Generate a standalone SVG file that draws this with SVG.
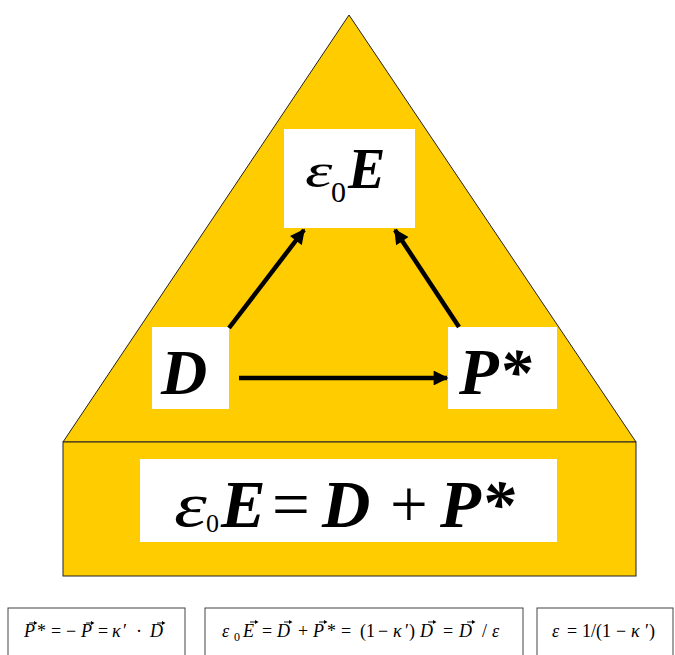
<svg xmlns="http://www.w3.org/2000/svg" width="675" height="655" viewBox="0 0 675 655">
<style>
.gold{fill:#FFCC00;stroke:#222;stroke-width:1}
.wb{fill:#fff;stroke:none}
.sb{fill:#fff;stroke:#444;stroke-width:1}
.m{font-family:"Liberation Serif","Times New Roman",serif;fill:#000}
.bi{font-style:italic;font-weight:bold}
.it{font-style:italic}
.conn{stroke:#000;stroke-width:4.5;fill:none}
.s{font-family:"Liberation Serif","Times New Roman",serif;font-size:18px;fill:#000}
</style>
<defs>
<marker id="ah" viewBox="0 0 10 10" refX="9" refY="5" markerWidth="3.6" markerHeight="3.3" orient="auto" markerUnits="strokeWidth">
<path d="M0,0 L10,5 L0,10 Z" fill="#000"/>
</marker>
<g id="vec">
<path d="M-4,0 H2" stroke="#000" stroke-width="0.9" fill="none"/>
<path d="M1,-1.9 L4.5,0 L1,1.9 Z" fill="#000"/>
</g>
</defs>
<g id="background">
<polygon class="gold" points="349,15 636,442 63,442"/>
<rect class="gold" x="63" y="442" width="573" height="134"/>
</g>
<g id="node-e0E">
<rect class="wb" x="284" y="129" width="131" height="99"/>
<text class="m it" transform="translate(305,187) scale(1.45,1)" font-size="48">ε</text>
<text class="m" x="331" y="202" font-size="30">0</text>
<text class="m bi" x="348" y="188" font-size="56">E</text>
</g>
<g id="node-D">
<rect class="wb" x="152" y="327" width="77" height="82"/>
<text class="m bi" x="161" y="394" font-size="64">D</text>
</g>
<g id="node-Pstar">
<rect class="wb" x="448" y="327" width="109" height="82"/>
<text class="m bi" x="459" y="394" font-size="65">P*</text>
</g>
<g id="connectors">
<line class="conn" x1="239" y1="378" x2="447" y2="378" marker-end="url(#ah)"/>
<line class="conn" x1="229" y1="328" x2="304" y2="230" marker-end="url(#ah)"/>
<line class="conn" x1="459" y1="327" x2="395" y2="230" marker-end="url(#ah)"/>
</g>
<g id="equation">
<rect class="wb" x="140" y="459" width="417" height="83"/>
<text class="m it" transform="translate(174,526) scale(1.3,1)" font-size="64">ε</text>
<text class="m" x="206" y="532" font-size="26">0</text>
<text class="m" y="527" font-size="67"><tspan class="bi" x="221">E</tspan><tspan x="272">=</tspan><tspan class="bi" x="322">D</tspan><tspan x="390">+</tspan><tspan class="bi" x="440">P*</tspan></text>
</g>
<g id="formula-1">
<rect class="sb" x="8" y="608" width="177" height="60"/>
<text class="s" y="637"><tspan class="it" x="24">P</tspan><tspan x="37">*</tspan><tspan x="51">=</tspan><tspan x="66">−</tspan><tspan class="it" x="81">P</tspan><tspan x="98">=</tspan><tspan class="it" x="112">κ</tspan><tspan x="123">′</tspan><tspan x="136">·</tspan><tspan class="it" x="150">D</tspan></text>
<use href="#vec" x="33" y="623"/>
<use href="#vec" x="90" y="623"/>
<use href="#vec" x="161" y="623"/>
</g>
<g id="formula-2">
<rect class="sb" x="205" y="608" width="318" height="60"/>
<text class="s" y="637"><tspan class="it" x="222">ε</tspan><tspan font-size="12" x="234" y="641">0</tspan><tspan class="it" x="243" y="637">E</tspan><tspan x="262">=</tspan><tspan class="it" x="277">D</tspan><tspan x="298">+</tspan><tspan class="it" x="313">P</tspan><tspan x="327">*</tspan><tspan x="341">=</tspan><tspan x="360">(1</tspan><tspan x="378">−</tspan><tspan class="it" x="393">κ</tspan><tspan x="405">′)</tspan><tspan class="it" x="420">D</tspan><tspan x="443">=</tspan><tspan class="it" x="459">D</tspan><tspan x="482">/</tspan><tspan class="it" x="492">ε</tspan></text>
<use href="#vec" x="254" y="622"/>
<use href="#vec" x="288" y="622"/>
<use href="#vec" x="323" y="622"/>
<use href="#vec" x="432" y="622"/>
<use href="#vec" x="471" y="622"/>
</g>
<g id="formula-3">
<rect class="sb" x="537" y="608" width="136" height="60"/>
<text class="s" y="637"><tspan class="it" x="552">ε</tspan><tspan x="567">=</tspan><tspan x="582">1/(1</tspan><tspan x="616">−</tspan><tspan class="it" x="631">κ</tspan><tspan x="645">′)</tspan></text>
</g>
</svg>
